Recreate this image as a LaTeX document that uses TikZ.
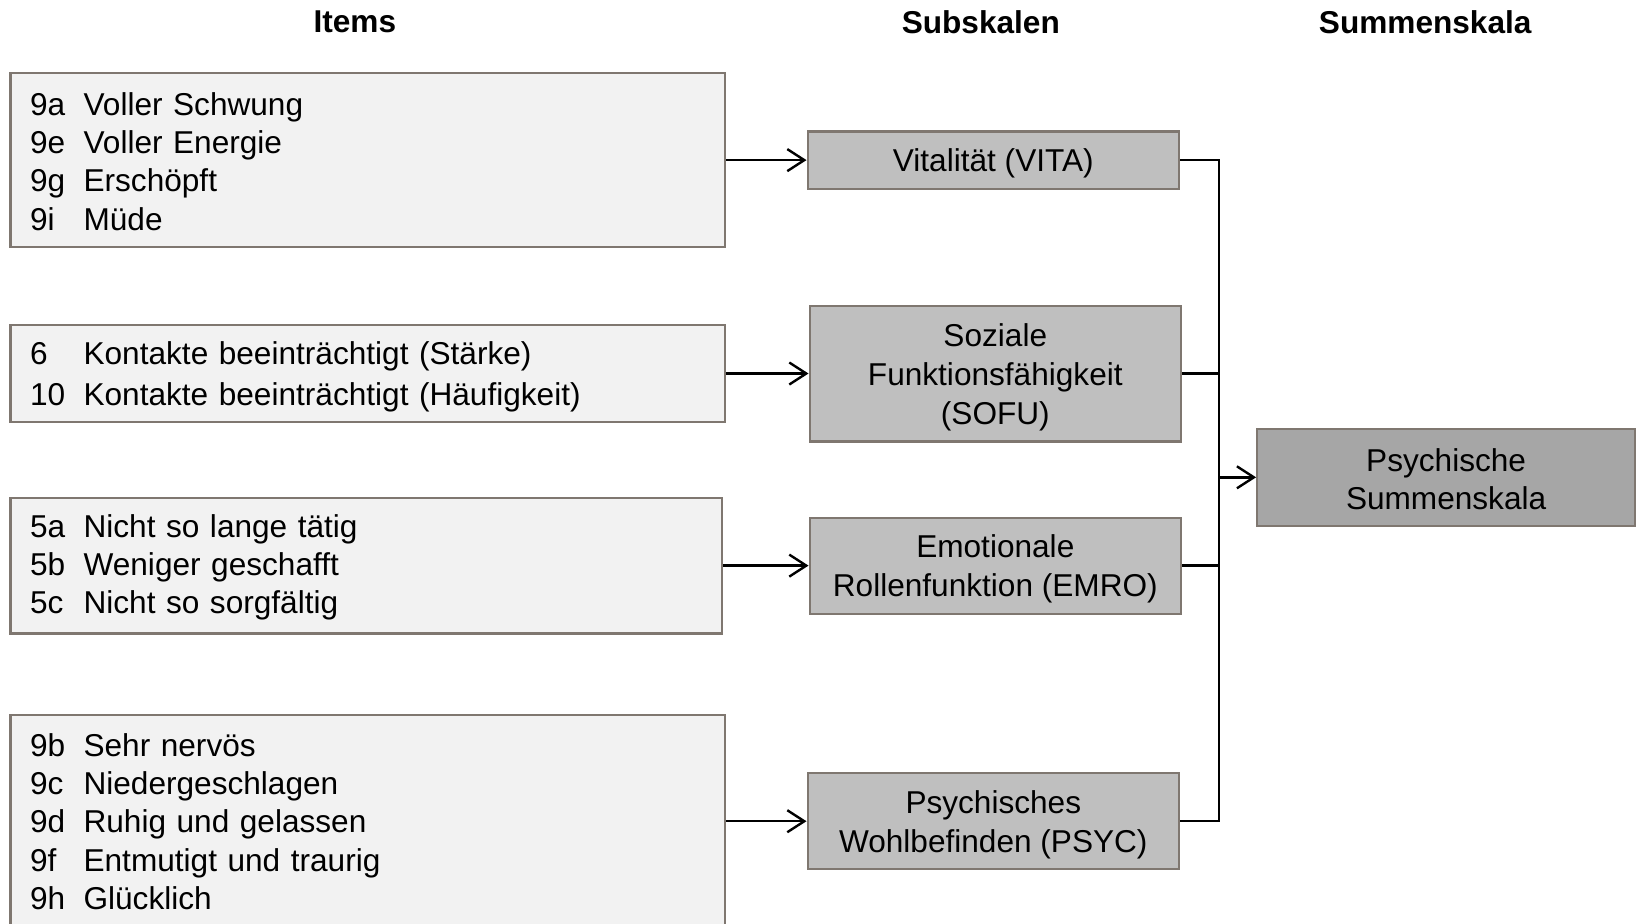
\documentclass[tikz,border=0pt]{standalone}
\usepackage{fontspec}
\setmainfont{Liberation Sans}
\usetikzlibrary{arrows.meta}
\definecolor{itemfill}{HTML}{F2F2F2}
\definecolor{subfill}{HTML}{BFBFBF}
\definecolor{sumfill}{HTML}{A6A6A6}
\definecolor{boxline}{HTML}{7F7770}
\newcommand{\itm}[2]{\makebox[26.8pt][l]{#1}#2}
\begin{document}
\begin{tikzpicture}[x=1pt,y=-1pt,
  txt/.style={font=\fontsize{15.8}{19.15}\selectfont},
  title/.style={font=\fontsize{15.8}{19}\selectfont\bfseries},
  itembox/.style={draw=boxline,fill=itemfill,line width=1.1pt,minimum width=357.3pt},
  itemtext/.style={txt,text width=337.7pt,align=left,inner sep=0pt},
  subbox/.style={draw=boxline,fill=subfill,line width=1.1pt,minimum width=185.7pt,inner sep=0pt},
  subtext/.style={txt,align=center,inner sep=0pt},
  sumbox/.style={draw=boxline,fill=sumfill,line width=1.1pt,
    minimum width=188.9pt,minimum height=48.5pt,inner sep=0pt},
  conn/.style={line width=1.2pt,black},
  arr/.style={conn,-{Straight Barb[length=8.5pt,width=11pt]}}]
\useasboundingbox (0,0) rectangle (818,461.5);
% titles
\node[title] (tItems) at (177.4,11) {Items};
\node[title] (tSub) at (490.4,11) {Subskalen};
\node[title] (tSum) at (712.6,11) {Summenskala};
% item boxes
\node[itembox,minimum height=87pt] (b1) at (183.85,80.05) {};
\node[itemtext] (t1) at ([yshift=-0.6pt]b1.center)
  {\itm{9a}{Voller Schwung}\\\itm{9e}{Voller Energie}\\\itm{9g}{Erschöpft}\\\itm{9i}{Müde}};
\node[itembox,minimum height=48.5pt] (b2) at (183.85,186.75) {};
\node[itemtext] (t2) at ([yshift=-1.6pt]b2.center)
  {\itm{6}{Kontakte beeinträchtigt (Stärke)}\\[1.2pt]\itm{10}{Kontakte beeinträchtigt (Häufigkeit)}};
\node[itembox,minimum height=67.9pt,minimum width=355.8pt] (b3) at (183.1,282.8) {};
\node[itemtext,text width=336.2pt] (t3) at ([yshift=-0.8pt]b3.center)
  {\itm{5a}{Nicht so lange tätig}\\\itm{5b}{Weniger geschafft}\\\itm{5c}{Nicht so sorgfältig}};
\node[itembox,minimum height=106.4pt] (b4) at (183.85,410.6) {};
\node[itemtext] (t4) at ([yshift=-0.2pt]b4.center)
  {\itm{9b}{Sehr nervös}\\\itm{9c}{Niedergeschlagen}\\\itm{9d}{Ruhig und gelassen}\\\itm{9f}{Entmutigt und traurig}\\\itm{9h}{Glücklich}};
% subscale boxes
\node[subbox,minimum height=28.7pt] (vita) at (496.65,80.05) {};
\node[subtext] (vitat) at ([yshift=-1.6pt]vita.center) {Vitalität (VITA)};
\node[subbox,minimum height=67.9pt] (sofu) at (497.65,186.75) {};
\node[subtext] (sofut) at ([yshift=-1.8pt]sofu.center) {Soziale\\[0.3pt]Funktionsfähigkeit\\[0.3pt](SOFU)};
\node[subbox,minimum height=48pt] (emro) at (497.65,282.8) {};
\node[subtext] (emrot) at ([yshift=-1.8pt]emro.center) {Emotionale\\[0.3pt]Rollenfunktion (EMRO)};
\node[subbox,minimum height=48pt] (psyc) at (496.65,410.6) {};
\node[subtext] (psyct) at ([yshift=-1.8pt]psyc.center) {Psychisches\\[0.3pt]Wohlbefinden (PSYC)};
% sum box
\node[sumbox] (sum) at (723.05,238.65) {};
\node[subtext] (sumt) at ([yshift=-0.9pt]sum.center) {Psychische\\Summenskala};
% connectors
\coordinate (bus) at (609.4,0);
\draw[arr] (b1.east) -- (vita.west);
\draw[arr] (b2.east) -- (sofu.west);
\draw[arr] (b3.east) -- (emro.west);
\draw[arr] (b4.east) -- (psyc.west);
\draw[conn] (vita.east) -- (vita.east -| bus) -- (psyc.east -| bus) -- (psyc.east);
\draw[conn] (sofu.east) -- (sofu.east -| bus);
\draw[conn] (emro.east) -- (emro.east -| bus);
\draw[arr] (sum.west -| bus) -- (sum.west);
\end{tikzpicture}
\end{document}
